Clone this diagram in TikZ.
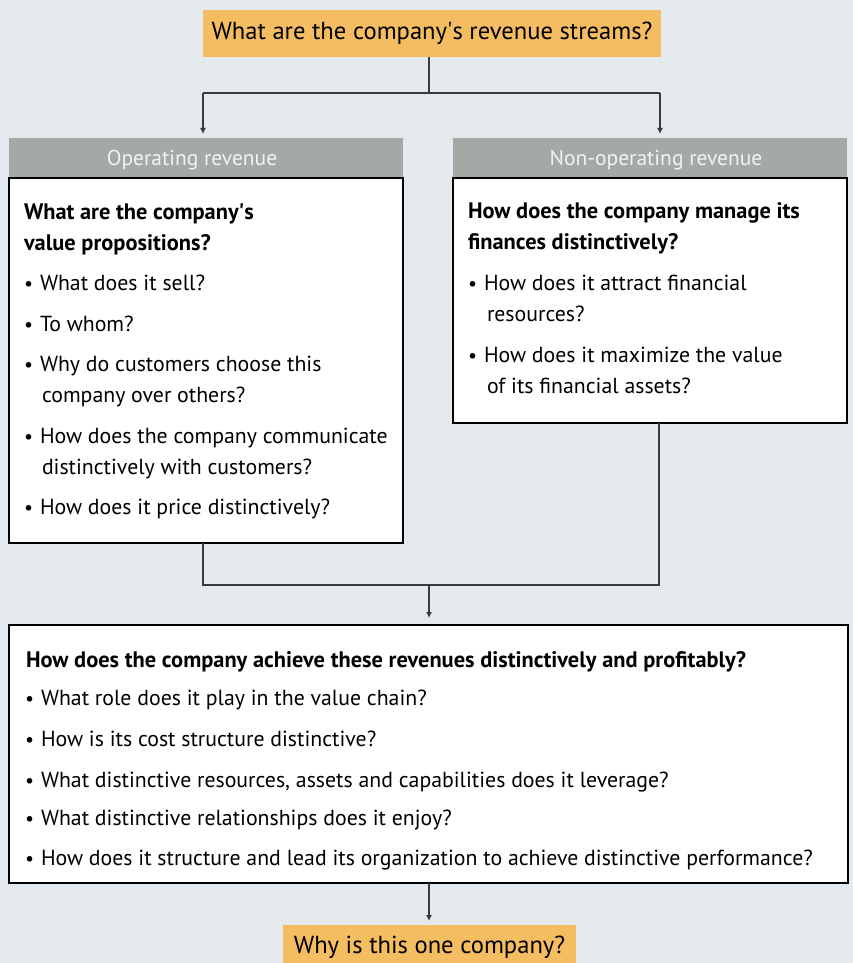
\documentclass[tikz,border=0pt]{standalone}
\usepackage{fontspec}
\setmainfont{PT Sans}
\usetikzlibrary{arrows.meta}
\definecolor{bg}{HTML}{E4E9ED}
\definecolor{orangebox}{HTML}{F5BD61}
\definecolor{headgray}{HTML}{A3A9A5}
\definecolor{headtext}{HTML}{F2F2F2}
\definecolor{linecol}{HTML}{3A3A3A}
\newcommand{\ap}{\textquotesingle}
\tikzset{
  every node/.style={inner sep=0pt, outer sep=0pt},
  qbox/.style={fill=orangebox, font=\fontsize{24.6}{28}\selectfont, text=black},
  headbox/.style={fill=headgray, font=\fontsize{21.5}{24}\selectfont, text=headtext},
  mainbox/.style={fill=white, draw=black, line width=1.2pt},
  txt/.style={anchor=base west, font=\fontsize{21.8}{24}\selectfont, text=black},
  btxt/.style={anchor=base west, font=\fontsize{22.4}{24}\selectfont\bfseries, text=black},
  bul/.style={anchor=base west, font=\fontsize{20}{24}\selectfont, text=black},
  conn/.style={draw=linecol, line width=1.2pt},
  arr/.style={conn, -{Latex[length=6pt,width=6pt]}},
}
\begin{document}
\begin{tikzpicture}[x=1pt,y=-1pt]
\fill[bg] (0,0) rectangle (853,963);
\useasboundingbox (0,0) rectangle (853,963);

% top question
\node[qbox, minimum width=458pt, minimum height=47pt] (top) at (432,33.5) {What are the company\ap s revenue streams?};

% headers
\node[headbox, minimum width=394pt, minimum height=40pt] (lhead) at (206,158) {};
\node[headbox, anchor=base] (lheadt) at (192,165) {Operating revenue};
\node[headbox, minimum width=394pt, minimum height=40pt] (rhead) at (650,158) {};
\node[headbox, anchor=base] (rheadt) at (656,165) {Non-operating revenue};

% boxes
\node[mainbox, minimum width=394pt, minimum height=365pt] (lbox) at (206,360.5) {};
\node[mainbox, minimum width=394pt, minimum height=245pt] (rbox) at (650,300.5) {};
\node[mainbox, minimum width=839pt, minimum height=258pt] (bbox) at (428.5,754) {};

% bottom question
\node[qbox, minimum width=293pt, minimum height=44pt, anchor=north] (why) at (429.5,925) {Why is this one company?};

% left box text
\node[btxt] (l0) at (24,219) {What are the company\ap s};
\node[btxt] (l0b) at (24,250) {value propositions?};
\node[bul] (lb1) at (24,290) {•}; \node[txt] (l1) at (40,290) {What does it sell?};
\node[bul] (lb2) at (24,331) {•}; \node[txt] (l2) at (40,331) {To whom?};
\node[bul] (lb3) at (24,371) {•}; \node[txt] (l3) at (40,371) {Why do customers choose this};
\node[txt] (l3b) at (42,402) {company over others?};
\node[bul] (lb4) at (24,443) {•}; \node[txt] (l4) at (40,443) {How does the company communicate};
\node[txt] (l4b) at (42,474) {distinctively with customers?};
\node[bul] (lb5) at (24,514) {•}; \node[txt] (l5) at (40,514) {How does it price distinctively?};

% right box text
\node[btxt] (r0) at (468,218) {How does the company manage its};
\node[btxt] (r0b) at (468,249) {finances distinctively?};
\node[bul] (rb1) at (468,290) {•}; \node[txt] (r1) at (484,290) {How does it attract financial};
\node[txt] (r1b) at (487,321) {resources?};
\node[bul] (rb2) at (468,362) {•}; \node[txt] (r2) at (484,362) {How does it maximize the value};
\node[txt] (r2b) at (487,393) {of its financial assets?};

% bottom box text
\node[btxt] (b0) at (26,667) {How does the company achieve these revenues distinctively and profitably?};
\node[bul] (bb1) at (25,705) {•}; \node[txt] (b1) at (41,705) {What role does it play in the value chain?};
\node[bul] (bb2) at (25,746) {•}; \node[txt] (b2) at (41,746) {How is its cost structure distinctive?};
\node[bul] (bb3) at (25,787) {•}; \node[txt] (b3) at (41,787) {What distinctive resources, assets and capabilities does it leverage?};
\node[bul] (bb4) at (25,825) {•}; \node[txt] (b4) at (41,825) {What distinctive relationships does it enjoy?};
\node[bul] (bb5) at (25,865) {•}; \node[txt] (b5) at (41,865) {How does it structure and lead its organization to achieve distinctive performance?};

% connectors
\coordinate (split) at (429,93);
\coordinate (splitL) at (203,93);
\coordinate (splitR) at (660,93);
\coordinate (join) at (429,585);
\draw[conn] (top.south -| split) -- (split);
\draw[conn] (splitL) -- (splitR);
\draw[arr, shorten >=4pt] (splitL) -- (splitL |- lhead.north);
\draw[arr, shorten >=4pt] (splitR) -- (splitR |- rhead.north);
\draw[conn] (lbox.south -| splitL) |- (join);
\draw[conn] (rbox.south -| 659,0) |- (join);
\draw[arr, shorten >=7pt] (join) -- (join |- bbox.north);
\draw[arr, shorten >=4pt] (bbox.south -| join) -- (why.north -| join);
\end{tikzpicture}
\end{document}
